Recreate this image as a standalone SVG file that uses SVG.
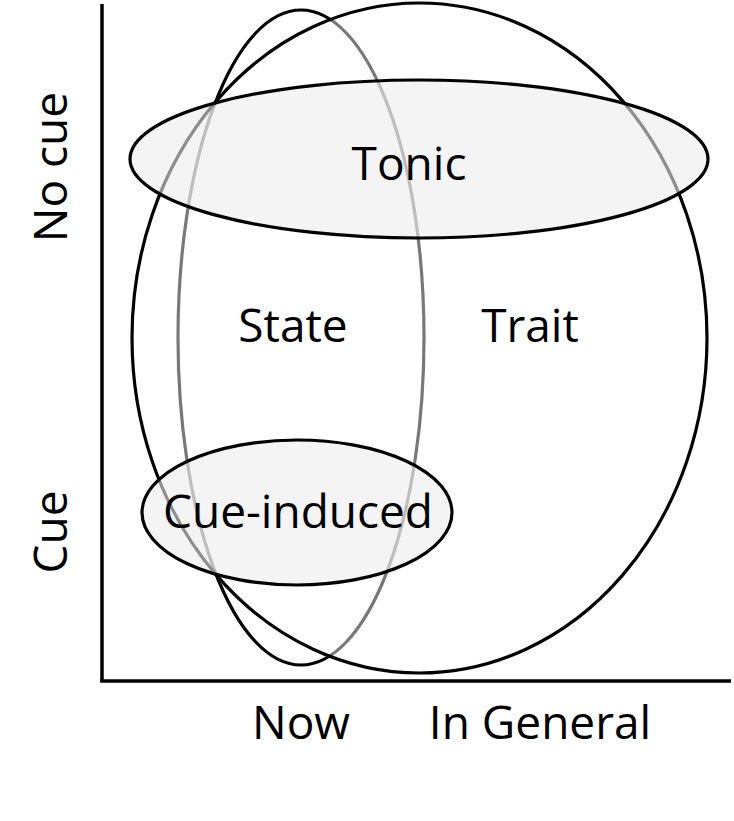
<svg xmlns="http://www.w3.org/2000/svg" width="734" height="821" viewBox="0 0 734 821">
<style>
.lbl{font-family:"Open Sans","Noto Sans","Liberation Sans",sans-serif;font-size:46px;fill:#000;text-anchor:middle}
.ax{stroke:#000;stroke-width:3.5;fill:none}
.ell{stroke:#000;stroke-width:3.2}
</style>
<rect width="734" height="821" fill="#fff"/>
<g id="axes">
<line class="ax" x1="102" y1="4" x2="102" y2="682"/>
<line class="ax" x1="100.25" y1="681" x2="731" y2="681"/>
</g>
<g id="state">
<ellipse class="ell" cx="301" cy="337.5" rx="123" ry="327.5" fill="none"/>
</g>
<g id="trait">
<ellipse class="ell" cx="419.5" cy="338" rx="287.5" ry="335" fill="#fff" fill-opacity="0.47"/>
</g>
<g id="tonic">
<ellipse class="ell" cx="419" cy="159" rx="289" ry="79" fill="#ececec" fill-opacity="0.6"/>
<text class="lbl" x="409" y="180">Tonic</text>
</g>
<g id="cue-induced">
<ellipse class="ell" cx="297" cy="512.5" rx="155" ry="72.5" fill="#ececec" fill-opacity="0.6"/>
<text class="lbl" x="298" y="528">Cue-induced</text>
</g>
<g id="labels">
<text class="lbl" x="293" y="342">State</text>
<text class="lbl" x="530" y="342">Trait</text>
<text class="lbl" x="301" y="739">Now</text>
<text class="lbl" x="540" y="739">In General</text>
<text class="lbl" transform="translate(67,167) rotate(-90)">No cue</text>
<text class="lbl" transform="translate(67,532) rotate(-90)">Cue</text>
</g>
</svg>
